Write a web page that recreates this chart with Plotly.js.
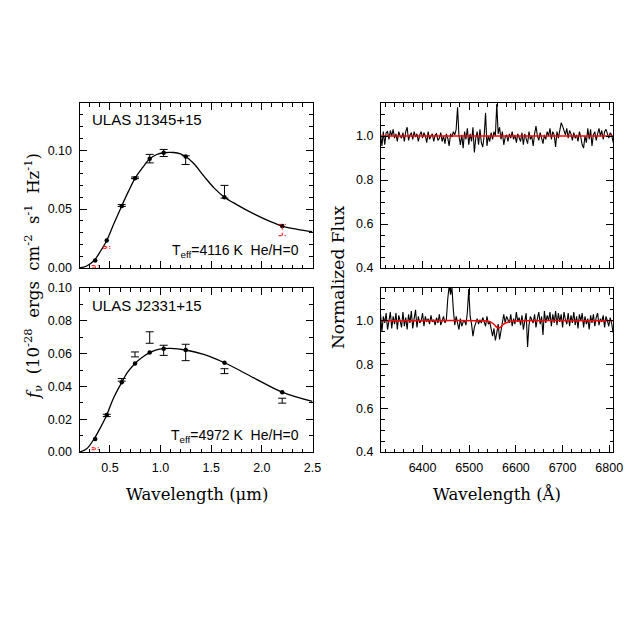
<!DOCTYPE html>
<html>
<head>
<meta charset="utf-8">
<script src="https://cdn.plot.ly/plotly-3.0.1.min.js"></script>
<style>
  html, body { margin: 0; padding: 0; background: #fff; }
  #chart { width: 638px; height: 638px; }
</style>
</head>
<body>
<div id="chart"></div>
<script>
// photometric bands (u g r i z Y J H K), microns
const filterWave = [0.355, 0.469, 0.617, 0.748, 0.893, 1.031, 1.248, 1.631, 2.201];

// ULAS J1345+15
const modelWave1 = [0.2, 0.271, 0.344, 0.403, 0.469, 0.541, 0.617, 0.683, 0.748, 0.820, 0.893, 0.962,
  1.031, 1.13, 1.196, 1.248, 1.33, 1.43, 1.53, 1.631, 1.756, 1.921, 2.086, 2.2, 2.35, 2.5];
const modelFlux1 = [0, 0.0017, 0.0063, 0.0137, 0.0234, 0.0379, 0.0527, 0.065, 0.0761, 0.0849, 0.0926, 0.0963,
  0.0978, 0.098, 0.0969, 0.0946, 0.0884, 0.0778, 0.0678, 0.0601, 0.0536, 0.0459, 0.0393, 0.0356, 0.0328, 0.0308];
const synthFlux1 = [0.0063, 0.0234, 0.0527, 0.0761, 0.0926, 0.0978, 0.0946, 0.0601, 0.0356];
const obsWave1 = [0.617, 0.748, 0.893, 1.031, 1.248, 1.631];
const obsFlux1 = [0.053, 0.0765, 0.0928, 0.0976, 0.0915, 0.0647];
const obsErr1 = [0.0008, 0.0007, 0.0036, 0.003, 0.0037, 0.0054];
const redWave1 = [0.355, 0.469, 2.201];
const redFlux1 = [0.001, 0.0175, 0.0322];
const redErr1 = [0.001, 0.0008, 0.0048];

// ULAS J2331+15
const modelWave2 = [0.2, 0.271, 0.344, 0.403, 0.469, 0.535, 0.617, 0.673, 0.748, 0.82, 0.893, 0.96,
  1.031, 1.096, 1.248, 1.426, 1.631, 1.921, 2.2, 2.5];
const modelFlux2 = [0, 0.002, 0.008, 0.0144, 0.0226, 0.0328, 0.0425, 0.0485, 0.054, 0.0578, 0.0606, 0.0622,
  0.063, 0.0632, 0.0622, 0.0595, 0.0544, 0.0452, 0.0365, 0.0308];
const synthFlux2 = [0.008, 0.0226, 0.0425, 0.054, 0.0606, 0.063, 0.0622, 0.0544, 0.0365];
const obsWave2 = [0.469, 0.617, 0.748, 0.893, 1.031, 1.248, 1.631, 2.201];
const obsFlux2 = [0.0223, 0.044, 0.0595, 0.0698, 0.062, 0.0607, 0.0493, 0.0313];
const obsErr2 = [0.0007, 0.0008, 0.0015, 0.0035, 0.0031, 0.005, 0.0015, 0.0015];
const redWave2 = [0.355];
const redFlux2 = [0.002];
const redErr2 = [0.0006];

// normalized spectra, 3 A per pixel from 6310 A
const specStart = 6310;
const specStep = 3;
const spec1 = [
  1.01, 0.955, 1.02, 0.96, 1.015, 1.02, 0.985, 1.025, 1.00, 1.03,
  0.99, 1.01, 0.975, 1.02, 1.00, 0.99, 1.015, 0.975, 1.02, 1.04,
  0.98, 1.005, 1.015, 0.985, 1.02, 0.995, 1.01, 0.975, 1.005, 1.02,
  0.99, 1.015, 1.0, 0.97, 1.02, 0.985, 1.0, 1.01, 0.975, 1.005,
  1.01, 0.98, 0.99, 1.015, 0.975, 1.0, 0.965, 1.01, 0.99, 0.955,
  1.01, 0.995, 1.02, 1.005, 1.03, 1.13, 1.0, 0.96, 1.005, 0.945,
  1.02, 0.985, 1.035, 0.96, 1.01, 0.975, 1.04, 0.925, 0.99, 1.02,
  0.96, 1.03, 0.97, 0.95, 1.0, 1.105, 0.955, 1.0, 0.975, 1.015,
  0.985, 1.02, 1.0, 1.145, 1.01, 1.04, 0.985, 1.02, 0.96, 0.995,
  1.005, 0.975, 1.01, 0.99, 1.02, 0.985, 1.005, 0.97, 1.01, 0.995,
  0.975, 1.015, 0.96, 1.01, 0.99, 0.965, 1.02, 0.985, 1.0, 0.955,
  1.01, 1.045, 1.0, 0.98, 1.015, 0.99, 0.965, 1.005, 0.985, 1.02,
  1.0, 1.035, 0.985, 1.02, 1.005, 0.95, 1.02, 0.99, 1.03, 1.06,
  1.045, 1.02, 1.005, 1.035, 0.99, 1.025, 1.01, 0.98, 1.015, 0.99,
  1.005, 0.975, 1.02, 0.995, 0.96, 0.945, 1.0, 0.97, 1.035, 0.985,
  1.03, 0.955, 1.005, 1.02, 0.98, 1.01, 1.035, 1.0, 1.025, 0.985,
  1.02, 1.03, 1.005, 0.99, 1.015, 1.005, 0.975, 0.955
];
const spec2 = [
  1.03, 0.95, 1.02, 0.99, 1.035, 0.96, 1.0, 1.04, 0.965, 1.02,
  0.985, 1.035, 0.96, 1.025, 1.0, 0.97, 1.04, 0.975, 1.015, 0.96,
  1.03, 0.99, 1.045, 0.965, 1.01, 1.05, 0.97, 1.02, 0.99, 1.0,
  1.035, 0.975, 1.02, 0.995, 1.01, 0.985, 1.025, 0.995, 1.005, 0.98,
  1.015, 0.99, 1.03, 0.98, 1.0, 1.02, 0.99, 1.005, 1.10, 1.16,
  1.12, 1.15, 1.05, 0.98, 1.02, 0.985, 0.96, 1.01, 0.975, 0.995,
  1.0, 0.98, 1.04, 1.145, 1.02, 0.985, 0.93, 0.97, 0.99, 1.01,
  0.985, 1.005, 0.99, 1.015, 0.995, 0.975, 1.02, 0.985, 0.995, 0.96,
  0.93, 0.965, 0.91, 0.945, 0.985, 0.915, 0.96, 1.0, 1.03, 0.99,
  1.02, 1.005, 0.99, 1.03, 0.975, 1.01, 0.985, 1.04, 0.995, 1.015,
  0.98, 1.025, 0.96, 1.0, 1.035, 0.88, 0.98, 1.02, 1.005, 0.99,
  1.03, 0.97, 1.01, 1.04, 0.985, 1.02, 0.935, 1.045, 0.99, 1.025,
  1.0, 1.04, 0.975, 1.03, 0.99, 1.045, 0.98, 1.035, 0.995, 1.03,
  0.97, 1.04, 1.005, 0.985, 1.035, 0.975, 1.025, 0.99, 1.04, 0.98,
  1.02, 0.965, 1.03, 1.0, 1.035, 0.97, 1.02, 0.985, 1.01, 0.96,
  1.025, 0.99, 1.03, 0.975, 1.015, 1.035, 0.98, 1.01, 0.995, 1.025,
  0.97, 1.02, 1.0, 0.975, 1.015, 0.99, 0.95, 0.935
];
// model fits (red)
const fitWave1 = [6310, 6811];
const fitFlux1 = [1.0, 1.0];
const fitWave2 = [6310, 6530, 6540, 6548, 6554, 6558, 6563, 6568, 6572, 6578, 6586, 6596, 6811];
const fitFlux2 = [1.0, 1.0, 0.998, 0.992, 0.982, 0.972, 0.967, 0.972, 0.982, 0.99, 0.996, 0.999, 1.0];

const tickFont = { family: "Liberation Sans, Arial, sans-serif", size: 12.5, color: "black" };
const serif = "DejaVu Serif, serif";
const sans = "Liberation Sans, Arial, sans-serif";
const sp = "\u00a0\u00a0";

function axis(domain, range, dtick, minorDtick, extra) {
  return Object.assign({
    domain: domain,
    range: range,
    dtick: dtick,
    tick0: 0,
    ticks: "inside",
    ticklen: 7,
    tickwidth: 1,
    tickcolor: "black",
    showline: true,
    linecolor: "black",
    linewidth: 1,
    mirror: "allticks",
    showgrid: false,
    zeroline: false,
    tickfont: tickFont,
    ticklabelstandoff: 4,
    minor: { dtick: minorDtick, ticks: "inside", ticklen: 3.5, tickcolor: "black", tickwidth: 1, showgrid: false }
  }, extra || {});
}

// red dotted bars, built as segments from the data arrays
function dottedBars(wave, flux, err, xa, ya) {
  const cap = 0.035;
  const x = [], y = [];
  wave.forEach((w, i) => {
    const lo = flux[i] - err[i], hi = flux[i] + err[i];
    x.push(w, w, null, w - cap, w + cap, null, w - cap, w + cap, null);
    y.push(lo, hi, null, hi, hi, null, lo, lo, null);
  });
  return {
    x, y, xaxis: xa, yaxis: ya,
    mode: "lines", type: "scatter",
    line: { color: "red", width: 1, dash: "dot" },
    hoverinfo: "skip"
  };
}

function sedTraces(mw, mf, sf, ow, of, oe, rw, rf, re, xa, ya) {
  return [
    { x: mw, y: mf, xaxis: xa, yaxis: ya, mode: "lines", type: "scatter",
      line: { color: "black", width: 1.3, shape: "spline", smoothing: 1 } },
    { x: filterWave, y: sf, xaxis: xa, yaxis: ya, mode: "markers", type: "scatter",
      marker: { color: "black", size: 4.5 } },
    { x: ow, y: of, xaxis: xa, yaxis: ya, mode: "markers", type: "scatter",
      marker: { color: "rgba(0,0,0,0)", size: 1 },
      error_y: { type: "data", array: oe, visible: true, color: "black", thickness: 1, width: 4 } },
    dottedBars(rw, rf, re, xa, ya)
  ];
}

const traces = [].concat(
  sedTraces(modelWave1, modelFlux1, synthFlux1, obsWave1, obsFlux1, obsErr1,
    redWave1, redFlux1, redErr1, "x", "y"),
  sedTraces(modelWave2, modelFlux2, synthFlux2, obsWave2, obsFlux2, obsErr2,
    redWave2, redFlux2, redErr2, "x2", "y2"),
  [
    { y: spec1, x0: specStart, dx: specStep, xaxis: "x3", yaxis: "y3", mode: "lines", type: "scatter",
      line: { color: "black", width: 1.1 } },
    { x: fitWave1, y: fitFlux1, xaxis: "x3", yaxis: "y3", mode: "lines", type: "scatter",
      line: { color: "red", width: 1.5 } },
    { y: spec2, x0: specStart, dx: specStep, xaxis: "x4", yaxis: "y4", mode: "lines", type: "scatter",
      line: { color: "black", width: 1.1 } },
    { x: fitWave2, y: fitFlux2, xaxis: "x4", yaxis: "y4", mode: "lines", type: "scatter",
      line: { color: "red", width: 1.5, shape: "spline" } }
  ]
);

const W = 638;
const px = v => v / W;
const py = v => 1 - v / W;

const leftX = [px(79.5), px(312.5)];
const rightX = [px(381), px(613)];
const topY = [py(268), py(103)];
const botY = [py(452), py(288)];

const layout = {
  width: 638,
  height: 638,
  margin: { l: 0, r: 0, t: 0, b: 0 },
  paper_bgcolor: "white",
  plot_bgcolor: "white",
  showlegend: false,
  xaxis: axis(leftX, [0.2, 2.5], 0.5, 0.1, { anchor: "y", showticklabels: false }),
  yaxis: axis(topY, [0, 0.14], 0.05, 0.01, { anchor: "x", tickformat: ".2f" }),
  xaxis2: axis(leftX, [0.2, 2.5], 0.5, 0.1, { anchor: "y2", tickformat: ".1f" }),
  yaxis2: axis(botY, [0, 0.1], 0.02, 0.01, { anchor: "x2", tickformat: ".2f" }),
  xaxis3: axis(rightX, [6311, 6808], 100, 20, { anchor: "y3", showticklabels: false }),
  yaxis3: axis(topY, [0.4, 1.15], 0.2, 0.05, { anchor: "x3", tickformat: ".1f" }),
  xaxis4: axis(rightX, [6311, 6808], 100, 20, { anchor: "y4" }),
  yaxis4: axis(botY, [0.4, 1.15], 0.2, 0.05, { anchor: "x4", tickformat: ".1f" }),
  annotations: [
    { text: "ULAS J1345+15", x: px(90), y: py(120), xref: "paper", yref: "paper",
      xanchor: "left", yanchor: "middle", showarrow: false, font: { family: sans, size: 15, color: "black" } },
    { text: "ULAS J2331+15", x: px(90), y: py(305), xref: "paper", yref: "paper",
      xanchor: "left", yanchor: "middle", showarrow: false, font: { family: sans, size: 15, color: "black" } },
    { text: "T<sub>eff</sub>=4116 K" + sp + "He/H=0", x: px(301), y: py(251), xref: "paper", yref: "paper",
      xanchor: "right", yanchor: "middle", showarrow: false, font: { family: sans, size: 14, color: "black" } },
    { text: "T<sub>eff</sub>=4972 K" + sp + "He/H=0", x: px(301), y: py(436), xref: "paper", yref: "paper",
      xanchor: "right", yanchor: "middle", showarrow: false, font: { family: sans, size: 14, color: "black" } },
    { text: "Wavelength (\u03bcm)", x: px(197), y: py(494), xref: "paper", yref: "paper",
      xanchor: "center", yanchor: "middle", showarrow: false, font: { family: serif, size: 16.5, color: "black" } },
    { text: "Wavelength (\u00c5)", x: px(497), y: py(494), xref: "paper", yref: "paper",
      xanchor: "center", yanchor: "middle", showarrow: false, font: { family: serif, size: 16.5, color: "black" } },
    { text: "Normalized Flux", x: px(338), y: py(277), xref: "paper", yref: "paper", textangle: -90,
      xanchor: "center", yanchor: "middle", showarrow: false, font: { family: serif, size: 17, color: "black" } },
    { text: "<i>f</i><sub>\u03bd</sub>" + sp + "(10<sup>-28</sup>" + sp + "ergs" + sp + "cm<sup>-2</sup>" + sp +
        "s<sup>-1</sup>" + sp + "Hz<sup>-1</sup>)",
      x: px(33), y: py(277), xref: "paper", yref: "paper", textangle: -90,
      xanchor: "center", yanchor: "middle", showarrow: false, font: { family: serif, size: 16.5, color: "black" } }
  ]
};

Plotly.newPlot("chart", traces, layout, { staticPlot: true, displayModeBar: false });
</script>
</body>
</html>
